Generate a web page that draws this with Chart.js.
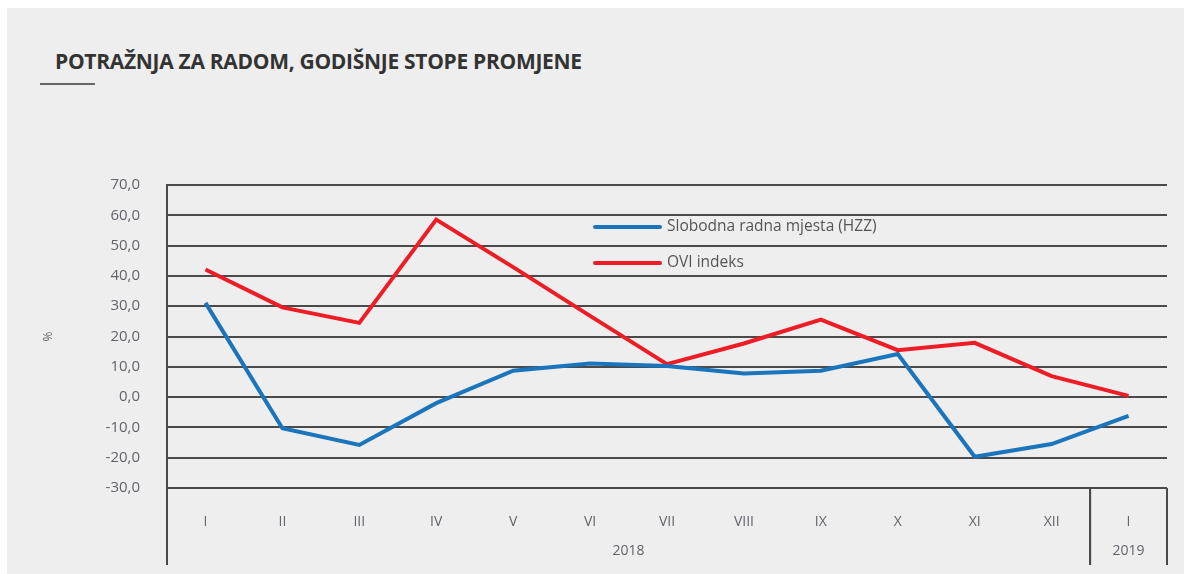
<!DOCTYPE html>
<html>
<head>
<meta charset="utf-8">
<script src="https://cdn.jsdelivr.net/npm/chart.js@4.4.0/dist/chart.umd.min.js"></script>
<style>
  html, body { margin: 0; padding: 0; background: #fff; overflow: hidden; }
  #panel { position: absolute; left: 7px; top: 8px; right: 0; bottom: 0; background: #eeeeee; }
  #title { position: absolute; left: 55px; top: 47px; font: 700 21px 'Open Sans', sans-serif; color: #333; letter-spacing: -0.3px; white-space: nowrap; }
  #rule { position: absolute; left: 40px; top: 83px; width: 55px; height: 2px; background: #666; }
  canvas { position: absolute; left: 0; top: 0; }
</style>
</head>
<body>
<div id="panel"></div>
<div id="title">POTRAŽNJA ZA RADOM, GODIŠNJE STOPE PROMJENE</div>
<div id="rule"></div>
<canvas id="chart" width="1184" height="574"></canvas>
<script>
const months = ['I', 'II', 'III', 'IV', 'V', 'VI', 'VII', 'VIII', 'IX', 'X', 'XI', 'XII', 'I'];
const years = ['2018', '2019'];
const yearSpans = [12, 1];
const vacancies = [31.1, -10.3, -15.8, -2.0, 8.7, 11.1, 10.3, 7.8, 8.7, 14.2, -19.7, -15.5, -6.2];
const oviIndex = [42.1, 29.6, 24.5, 58.6, 42.9, 26.8, 10.9, 17.7, 25.6, 15.5, 17.9, 6.9, 0.4];
const seriesNames = ['Slobodna radna mjesta (HZZ)', 'OVI indeks'];

const labelColor = '#66616c';
const lineDark = '#4a4a4a';

// year row under the month labels + vertical separators
const yearGroups = {
  id: 'yearGroups',
  afterDraw(chart) {
    const { ctx, chartArea, scales } = chart;
    const x = scales.x;
    const step = x.getPixelForValue(1) - x.getPixelForValue(0);
    const bottom = chartArea.bottom + 77;
    ctx.save();
    ctx.strokeStyle = lineDark;
    ctx.lineWidth = 2;
    ctx.fillStyle = labelColor;
    ctx.font = '14px "Open Sans", sans-serif';
    ctx.textAlign = 'center';
    ctx.textBaseline = 'middle';
    let start = 0;
    for (let g = 0; g < years.length; g++) {
      const end = start + yearSpans[g];
      const left = x.getPixelForValue(start) - step / 2;
      const right = x.getPixelForValue(end - 1) + step / 2;
      ctx.beginPath();
      ctx.moveTo(left, g === 0 ? chartArea.top : chartArea.bottom);
      ctx.lineTo(left, bottom);
      ctx.moveTo(right, chartArea.bottom);
      ctx.lineTo(right, bottom);
      ctx.stroke();
      ctx.fillText(years[g], (left + right) / 2, chartArea.bottom + 63);
      start = end;
    }
    ctx.restore();
  }
};

// legend drawn inside the plot, stacked
const innerLegend = {
  id: 'innerLegend',
  afterDatasetsDraw(chart) {
    const { ctx } = chart;
    ctx.save();
    ctx.font = '15.5px "Open Sans", sans-serif';
    ctx.textBaseline = 'middle';
    ctx.fillStyle = '#555';
    chart.data.datasets.forEach((ds, i) => {
      const y = 227 + i * 36;
      ctx.strokeStyle = ds.borderColor;
      ctx.lineWidth = 4;
      ctx.lineCap = 'round';
      ctx.beginPath();
      ctx.moveTo(595, y);
      ctx.lineTo(660, y);
      ctx.stroke();
      ctx.fillText(ds.label, 667, y);
    });
    ctx.restore();
  }
};

new Chart(document.getElementById('chart'), {
  type: 'line',
  data: {
    labels: months,
    datasets: [
      { label: seriesNames[0], data: vacancies, borderColor: '#1b75bc', borderWidth: 4, pointRadius: 0, tension: 0 },
      { label: seriesNames[1], data: oviIndex, borderColor: '#ee1d25', borderWidth: 4, pointRadius: 0, tension: 0 }
    ]
  },
  options: {
    responsive: false,
    animation: false,
    layout: { padding: { top: 185, right: 17, bottom: 0, left: 0 } },
    plugins: { legend: { display: false }, tooltip: { enabled: false } },
    scales: {
      x: {
        offset: true,
        grid: { display: false },
        border: { display: false },
        ticks: { color: labelColor, font: { size: 14, family: 'Open Sans' }, padding: 18, maxRotation: 0, autoSkip: false },
        afterFit(s) { s.height = 86; }
      },
      y: {
        min: -30,
        max: 70,
        grid: { color: lineDark, lineWidth: 2, drawTicks: false },
        border: { display: true, color: lineDark, width: 2 },
        ticks: {
          stepSize: 10,
          color: labelColor,
          font: { size: 15, family: 'Open Sans' },
          padding: 27,
          callback: v => v.toFixed(1).replace('.', ',')
        },
        title: { display: true, text: '%', color: labelColor, font: { size: 12, family: 'Open Sans' }, padding: { top: 41, bottom: 0 } },
        afterFit(s) { s.width = 167; }
      }
    }
  },
  plugins: [yearGroups, innerLegend]
});
</script>
</body>
</html>
